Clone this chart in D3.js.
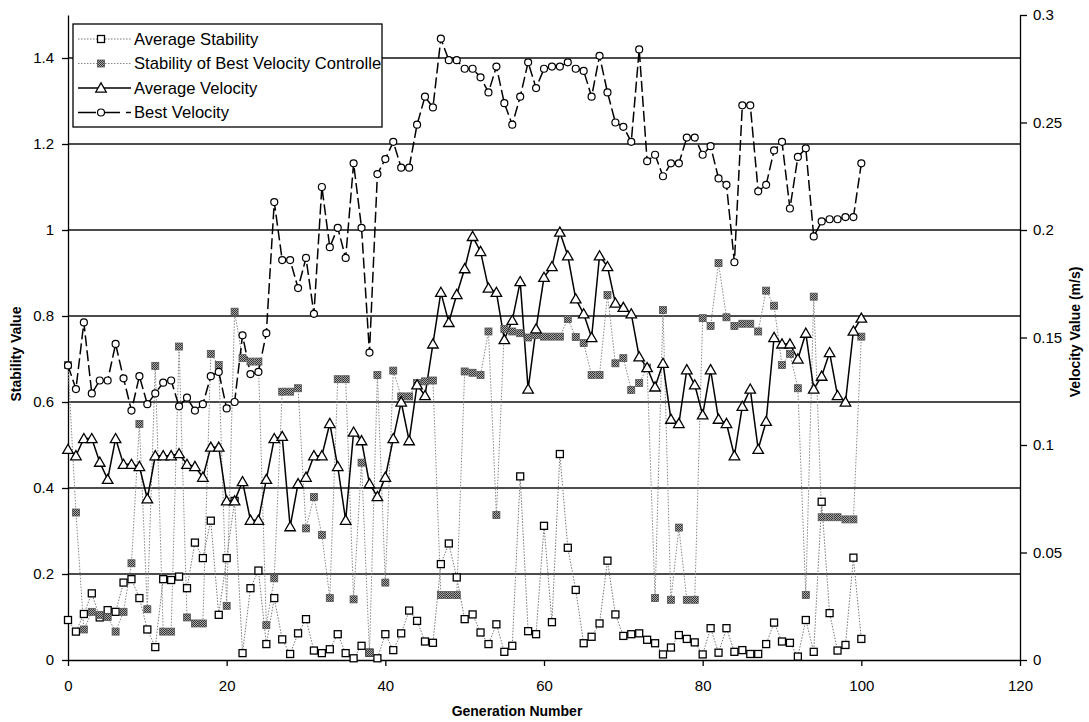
<!DOCTYPE html>
<html>
<head>
<meta charset="utf-8">
<script src="https://cdn.jsdelivr.net/npm/d3@7"></script>
<style>
  body { margin: 0; background: #fff; }
  svg { font-family: "Liberation Sans", Arial, sans-serif; }
</style>
</head>
<body>
<svg width="1089" height="722"></svg>
<script>
// generation 0..100
const avgStability = [
  0.093, 0.066, 0.107, 0.155, 0.099, 0.116, 0.112, 0.180, 0.188, 0.144,
  0.071, 0.030, 0.188, 0.186, 0.194, 0.167, 0.273, 0.237, 0.324, 0.105,
  0.237, 0.370, 0.016, 0.167, 0.208, 0.037, 0.144, 0.048, 0.014, 0.062,
  0.095, 0.022, 0.016, 0.025, 0.060, 0.016, 0.004, 0.033, 0.017, 0.004,
  0.060, 0.023, 0.062, 0.115, 0.091, 0.043, 0.040, 0.223, 0.271, 0.192,
  0.095, 0.106, 0.064, 0.037, 0.083, 0.019, 0.033, 0.427, 0.067, 0.060,
  0.312, 0.088, 0.479, 0.261, 0.163, 0.039, 0.054, 0.085, 0.231, 0.106,
  0.056, 0.060, 0.062, 0.047, 0.039, 0.013, 0.029, 0.058, 0.049, 0.041,
  0.013, 0.074, 0.017, 0.074, 0.019, 0.023, 0.014, 0.014, 0.037, 0.087,
  0.043, 0.040, 0.008, 0.093, 0.019, 0.368, 0.109, 0.022, 0.035, 0.238,
  0.049
];
const bestStability = [
  0.686, 0.343, 0.071, 0.112, 0.105, 0.100, 0.066, 0.112, 0.225, 0.549,
  0.118, 0.684, 0.066, 0.066, 0.729, 0.099, 0.085, 0.085, 0.712, 0.686,
  0.126, 0.810, 0.702, 0.694, 0.694, 0.081, 0.190, 0.624, 0.624, 0.632,
  0.306, 0.379, 0.291, 0.144, 0.653, 0.653, 0.141, 0.459, 0.017, 0.663,
  0.180, 0.673, 0.613, 0.613, 0.644, 0.648, 0.650, 0.151, 0.151, 0.151,
  0.671, 0.668, 0.663, 0.764, 0.337, 0.770, 0.764, 0.760, 0.750, 0.756,
  0.752, 0.752, 0.752, 0.793, 0.751, 0.737, 0.663, 0.663, 0.849, 0.690,
  0.702, 0.628, 0.644, 0.680, 0.144, 0.814, 0.140, 0.308, 0.140, 0.140,
  0.795, 0.777, 0.923, 0.797, 0.777, 0.782, 0.782, 0.764, 0.859, 0.824,
  0.686, 0.712, 0.632, 0.151, 0.845, 0.332, 0.332, 0.332, 0.327, 0.327,
  0.752
];
// m/s, right axis
const avgVelocity = [
  0.098, 0.095, 0.103, 0.103, 0.092, 0.084, 0.103, 0.091, 0.091, 0.090,
  0.075, 0.095, 0.095, 0.095, 0.096, 0.091, 0.090, 0.085, 0.099, 0.099,
  0.074, 0.074, 0.083, 0.065, 0.065, 0.084, 0.103, 0.104, 0.062, 0.082,
  0.085, 0.095, 0.095, 0.110, 0.090, 0.065, 0.106, 0.102, 0.082, 0.076,
  0.085, 0.103, 0.120, 0.102, 0.128, 0.123, 0.147, 0.171, 0.157, 0.170,
  0.182, 0.197, 0.190, 0.173, 0.171, 0.149, 0.158, 0.176, 0.126, 0.154,
  0.178, 0.183, 0.199, 0.188, 0.168, 0.161, 0.150, 0.188, 0.183, 0.166,
  0.164, 0.161, 0.141, 0.136, 0.127, 0.138, 0.112, 0.110, 0.135, 0.128,
  0.114, 0.135, 0.112, 0.110, 0.095, 0.118, 0.126, 0.098, 0.111, 0.150,
  0.147, 0.147, 0.140, 0.152, 0.126, 0.132, 0.143, 0.123, 0.120, 0.153,
  0.159
];
const bestVelocity = [
  0.137, 0.126, 0.157, 0.124, 0.130, 0.130, 0.147, 0.131, 0.116, 0.132,
  0.119, 0.124, 0.129, 0.130, 0.118, 0.122, 0.116, 0.119, 0.132, 0.134,
  0.117, 0.120, 0.151, 0.133, 0.134, 0.152, 0.213, 0.186, 0.186, 0.173,
  0.187, 0.161, 0.220, 0.192, 0.201, 0.187, 0.231, 0.201, 0.143, 0.226,
  0.233, 0.241, 0.229, 0.229, 0.249, 0.262, 0.257, 0.289, 0.279, 0.279,
  0.275, 0.275, 0.271, 0.264, 0.276, 0.259, 0.249, 0.262, 0.278, 0.266,
  0.275, 0.276, 0.276, 0.278, 0.275, 0.274, 0.262, 0.281, 0.264, 0.250,
  0.248, 0.241, 0.284, 0.232, 0.235, 0.225, 0.231, 0.231, 0.243, 0.243,
  0.235, 0.239, 0.224, 0.221, 0.185, 0.258, 0.258, 0.218, 0.221, 0.237,
  0.241, 0.210, 0.234, 0.238, 0.197, 0.204, 0.205, 0.205, 0.206, 0.206,
  0.231
];

const seriesNames = ["Average Stability", "Stability of Best Velocity Controller", "Average Velocity", "Best Velocity"];
const xTicks = [0, 20, 40, 60, 80, 100, 120];
const leftTicks = [0, 0.2, 0.4, 0.6, 0.8, 1, 1.2, 1.4];
const rightTicks = [0, 0.05, 0.1, 0.15, 0.2, 0.25, 0.3];

const svg = d3.select("svg");
const plotLeft = 68, plotRight = 1020, plotTop = 15, plotBottom = 660;

const x = d3.scaleLinear().domain([0, 120]).range([plotLeft, plotRight]);
const yL = d3.scaleLinear().domain([0, 1.5]).range([plotBottom, plotTop]);
const yR = d3.scaleLinear().domain([0, 0.3]).range([plotBottom, plotTop]);

const fmt = d => String(+d.toFixed(2));

// stippled fill for the grey squares
const defs = svg.append("defs");
const pat = defs.append("pattern").attr("id", "stip")
  .attr("width", 2).attr("height", 2).attr("patternUnits", "userSpaceOnUse");
pat.append("rect").attr("width", 2).attr("height", 2).attr("fill", "#aaa");
pat.append("rect").attr("width", 1).attr("height", 1).attr("fill", "#333");
pat.append("rect").attr("x", 1).attr("y", 1).attr("width", 1).attr("height", 1).attr("fill", "#333");
defs.append("clipPath").attr("id", "legclip")
  .append("rect").attr("x", 73).attr("y", 24).attr("width", 309).attr("height", 103);

// gridlines
svg.append("g").selectAll("line")
  .data(leftTicks.filter(d => d > 0))
  .enter().append("line")
  .attr("x1", plotLeft).attr("x2", plotRight)
  .attr("y1", d => yL(d)).attr("y2", d => yL(d))
  .attr("stroke", "#111").attr("stroke-width", 1.4);

// axes
const styleAxis = g => {
  g.selectAll("text").attr("font-size", 15).attr("fill", "#000")
    .attr("font-family", "'Liberation Sans', Arial, sans-serif");
  g.selectAll("line, path").attr("stroke", "#000").attr("stroke-width", 1.3);
};

svg.append("g")
  .attr("transform", `translate(0,${plotBottom})`)
  .call(d3.axisBottom(x).tickValues(xTicks).tickFormat(fmt).tickSize(6).tickSizeOuter(0).tickPadding(14))
  .call(styleAxis);

svg.append("g")
  .attr("transform", `translate(${plotLeft},0)`)
  .call(d3.axisLeft(yL).tickValues(leftTicks).tickFormat(fmt).tickSize(6).tickSizeOuter(0).tickPadding(8))
  .call(styleAxis);

svg.append("g")
  .attr("transform", `translate(${plotRight},0)`)
  .call(d3.axisRight(yR).tickValues(rightTicks).tickFormat(fmt).tickSize(7).tickSizeOuter(0).tickPadding(6))
  .call(styleAxis);

// axis titles
const titleFont = "'Liberation Sans Narrow', 'Liberation Sans', Arial, sans-serif";
svg.append("text").attr("x", 517).attr("y", 716).attr("text-anchor", "middle")
  .attr("font-size", 14).attr("font-weight", "bold").attr("font-family", titleFont)
  .text("Generation Number");
svg.append("text").attr("transform", "translate(21,354) rotate(-90)").attr("text-anchor", "middle")
  .attr("font-size", 14).attr("font-weight", "bold").attr("font-family", titleFont)
  .text("Stability Value");
svg.append("text").attr("transform", "translate(1080,332) rotate(-90)").attr("text-anchor", "middle")
  .attr("font-size", 14).attr("font-weight", "bold").attr("font-family", titleFont)
  .text("Velocity Value (m/s)");

// series
const series = [
  { name: seriesNames[0], data: avgStability, y: yL, stroke: "#777", width: 1, dash: "1.5,1.5", legDash: "1.5,1.5", marker: "open" },
  { name: seriesNames[1], data: bestStability, y: yL, stroke: "#888", width: 1, dash: "1.5,1.5", legDash: "1.5,1.5", marker: "filled" },
  { name: seriesNames[2], data: avgVelocity, y: yR, stroke: "#000", width: 1.5, dash: null, legDash: null, marker: "triangle" },
  { name: seriesNames[3], data: bestVelocity, y: yR, stroke: "#000", width: 1.5, dash: "11,4", legDash: "18,6", marker: "circle" }
];

function drawMarker(g, type, cx, cy) {
  if (type === "open") {
    g.append("rect").attr("x", cx - 3.5).attr("y", cy - 3.5).attr("width", 7).attr("height", 7)
      .attr("fill", "#fff").attr("stroke", "#000").attr("stroke-width", 1.3);
  } else if (type === "filled") {
    g.append("rect").attr("x", cx - 3.5).attr("y", cy - 3.5).attr("width", 7).attr("height", 7)
      .attr("fill", "url(#stip)").attr("stroke", "#555").attr("stroke-width", 0.8);
  } else if (type === "triangle") {
    g.append("path").attr("d", d3.symbol(d3.symbolTriangle, 48)())
      .attr("transform", `translate(${cx},${cy + 1})`)
      .attr("fill", "#fff").attr("stroke", "#000").attr("stroke-width", 1.3);
  } else {
    g.append("circle").attr("cx", cx).attr("cy", cy).attr("r", 3.5)
      .attr("fill", "#fff").attr("stroke", "#000").attr("stroke-width", 1.2);
  }
}

series.forEach(s => {
  const line = d3.line().x((d, i) => x(i)).y(d => s.y(d));
  svg.append("path").datum(s.data)
    .attr("d", line)
    .attr("fill", "none")
    .attr("stroke", s.stroke)
    .attr("stroke-width", s.width)
    .attr("stroke-dasharray", s.dash);
});
series.forEach(s => {
  const g = svg.append("g");
  s.data.forEach((d, i) => drawMarker(g, s.marker, x(i), s.y(d)));
});

// legend
const leg = svg.append("g");
leg.append("rect").attr("x", 73).attr("y", 24).attr("width", 309).attr("height", 103)
  .attr("fill", "#fff").attr("stroke", "#000").attr("stroke-width", 1.3);
series.forEach((s, i) => {
  const ly = 39 + i * 24.5;
  leg.append("line").attr("x1", 78).attr("x2", 131).attr("y1", ly).attr("y2", ly)
    .attr("stroke", s.stroke).attr("stroke-width", s.width)
    .attr("stroke-dasharray", s.legDash);
  drawMarker(leg, s.marker, 101, ly);
  leg.append("text").attr("x", 134).attr("y", ly).attr("dy", "0.36em")
    .attr("font-size", 16.6).attr("clip-path", "url(#legclip)")
    .text(s.name);
});
</script>
</body>
</html>
